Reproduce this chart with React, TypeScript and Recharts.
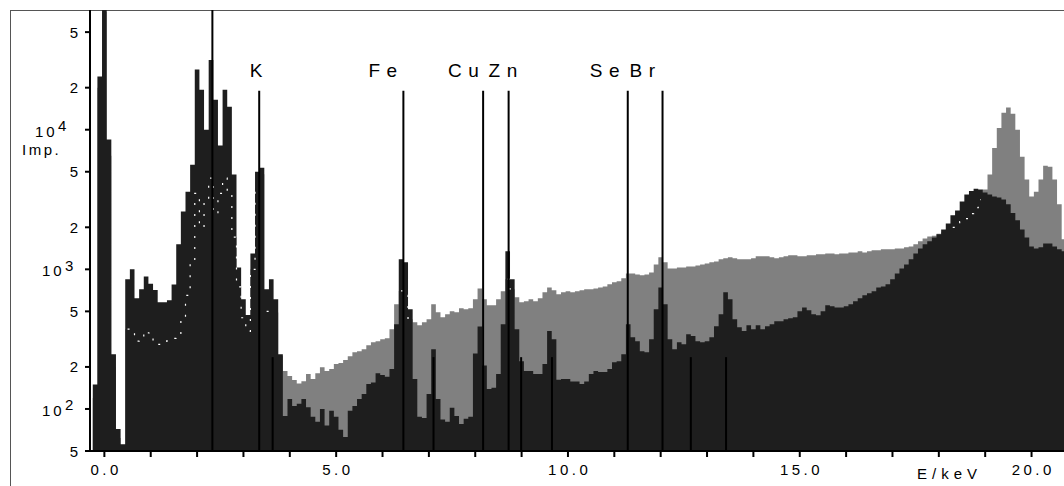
import React from 'react';
import {
  ComposedChart, Area, Line, XAxis, YAxis, ReferenceLine, ReferenceDot,
} from 'recharts';

// Channel calibration: first channel centre and channel width in keV
const CHANNEL_START = -0.3;
const CHANNEL_WIDTH = 0.1;

// Measured spectrum (dark), counts per channel from -0.3 to 20.7 keV
const sampleCounts = [
  40, 150, 24000, 80000, 8500, 247, 72, 56, 850, 1000,
  620, 720, 890, 790, 710, 580, 580, 600, 780, 1510,
  2600, 3600, 5620, 27000, 19300, 10000, 31600, 16400, 7700, 19300,
  14600, 4770, 1030, 610, 470, 1300, 5000, 5350, 720, 850,
  610, 247, 89, 118, 105, 109, 118, 103, 88, 81,
  100, 76, 97, 88, 71, 63, 97, 105, 118, 128,
  151, 155, 180, 175, 170, 193, 405, 1180, 1125, 518,
  164, 88, 86, 128, 268, 118, 84, 81, 102, 89,
  78, 85, 88, 250, 390, 205, 139, 142, 178, 405,
  1350, 850, 373, 220, 187, 187, 178, 178, 210, 361,
  316, 162, 164, 164, 157, 157, 151, 157, 178, 187,
  184, 184, 193, 216, 220, 247, 405, 326, 306, 259,
  255, 316, 518, 742, 563, 316, 268, 301, 291, 343,
  333, 306, 301, 306, 326, 391, 476, 685, 610, 439,
  385, 361, 398, 373, 398, 373, 391, 405, 425, 425,
  439, 447, 454, 502, 534, 510, 476, 469, 502, 552,
  544, 534, 534, 544, 563, 590, 620, 651, 674, 697,
  742, 755, 781, 848, 935, 1014, 1084, 1179, 1300, 1410,
  1510, 1590, 1690, 1780, 1930, 2130, 2440, 2640, 3060, 3440,
  3640, 3770, 3730, 3550, 3440, 3330, 3270, 3160, 2920, 2530,
  2250, 1930, 1690, 1460, 1410, 1440, 1530, 1530, 1460, 1390,
  1350,
];

// Comparison spectrum (grey), same channels
const referenceCounts = [
  40, 120, 20000, 70000, 6500, 200, 62, 52, 373, 360,
  306, 320, 361, 350, 300, 290, 305, 316, 320, 333,
  439, 650, 1100, 3500, 2000, 3000, 4500, 2500, 3500, 4500,
  3500, 1700, 750, 450, 360, 1000, 3800, 4800, 500, 500,
  490, 240, 187, 172, 161, 152, 158, 178, 164, 180,
  199, 187, 193, 210, 213, 224, 239, 255, 259, 268,
  286, 301, 306, 316, 321, 373, 563, 700, 650, 439,
  418, 398, 418, 439, 563, 493, 454, 476, 502, 493,
  527, 518, 527, 610, 730, 610, 552, 552, 610, 697,
  850, 720, 632, 582, 590, 610, 590, 620, 685, 742,
  707, 664, 685, 697, 685, 697, 707, 720, 720, 730,
  742, 755, 781, 808, 821, 863, 935, 935, 920, 906,
  920, 950, 1084, 1220, 1125, 1014, 1014, 1030, 1030, 1047,
  1047, 1065, 1084, 1102, 1125, 1140, 1179, 1200, 1220, 1200,
  1179, 1180, 1180, 1200, 1240, 1240, 1240, 1220, 1200, 1220,
  1240, 1260, 1260, 1240, 1240, 1260, 1260, 1280, 1280, 1300,
  1300, 1280, 1300, 1300, 1320, 1320, 1350, 1320, 1350, 1370,
  1370, 1390, 1390, 1390, 1410, 1410, 1440, 1460, 1510, 1590,
  1660, 1720, 1740, 1800, 1840, 1930, 2000, 2090, 2200, 2310,
  2510, 2760, 3160, 3730, 4770, 7400, 10300, 13200, 14400, 13000,
  10000, 6400, 4400, 3330, 3600, 4400, 5530, 5440, 4400, 2920,
  1640,
];

// K-alpha markers with element names (keV)
const alphaLines = [
  { element: 'K', energy: 3.34 },
  { element: 'Fe', energy: 6.45 },
  { element: 'Cu', energy: 8.17 },
  { element: 'Zn', energy: 8.72 },
  { element: 'Se', energy: 11.29 },
  { element: 'Br', energy: 12.04 },
];
// K-beta markers (keV)
const betaLines = [3.63, 7.1, 8.99, 9.655, 12.65, 13.41];
// full-height marker
const sulfurLine = 2.33;

const ALPHA_TOP = 19000;
const BETA_TOP = 235;
const COUNT_MIN = 50;
const COUNT_MAX = 72000;

const energyTicks = [0, 1, 2, 3, 4, 5, 6, 7, 8, 9, 10, 11, 12, 13, 14, 15, 16, 17, 18, 19, 20];
const countTicks = [50, 100, 200, 500, 1000, 2000, 5000, 10000, 20000, 50000];

// horizontal offset of each element name from its marker line
const LABEL_DX: Record<string, number> = { K: -9.5, Fe: -35, Cu: -35, Zn: -20, Se: -38, Br: -33 };

const data = sampleCounts.map((s, i) => {
  const r = referenceCounts[i];
  const e = Math.round((CHANNEL_START + i * CHANNEL_WIDTH) * 10) / 10;
  return {
    e,
    sample: s,
    reference: r,
    // outline of the grey spectrum where it sits under the dark one
    under: e >= 0.5 && s > r * 1.15 ? r : null,
  };
});

const FONT = '"Liberation Sans", Arial, sans-serif';

const EnergyTick = (props: any) => {
  const { x, payload } = props;
  const v = payload.value;
  if (v % 5 !== 0) return <g />;
  return (
    <text x={x + 1.75} y={475} textAnchor="middle" fontSize={15} letterSpacing={3.5} fill="#000" fontFamily={FONT}>
      {v.toFixed(1)}
    </text>
  );
};

const CountTick = (props: any) => {
  const { y, payload } = props;
  const v = payload.value;
  const exp = Math.floor(Math.log10(v) + 1e-9);
  const mant = Math.round(v / 10 ** exp);
  if (mant === 1) {
    const shift = exp === 4 ? -7 : 0;
    return (
      <g fontFamily={FONT} fill="#000" fontSize={15}>
        <text x={42 + shift} y={y + 7} letterSpacing={3}>10</text>
        <text x={65 + shift} y={y + 1.5}>{exp}</text>
      </g>
    );
  }
  return (
    <text x={78} y={y + 5.5} textAnchor="end" fontSize={15} fill="#000" fontFamily={FONT}>
      {mant}
    </text>
  );
};

export default function App() {
  return (
    <div style={{ position: 'absolute', left: 0, top: 0, width: 1064, height: 486, background: '#fff', overflow: 'hidden', fontFamily: FONT }}>
      <div style={{ position: 'absolute', left: 10, top: 10, width: 1100, height: 500, borderLeft: '1px solid #555', borderTop: '1px solid #555' }} />
      <div style={{ position: 'absolute', left: 0, top: 0 }}>
        <ComposedChart width={1064} height={486} data={data} margin={{ top: 10, right: 0, bottom: 0, left: 0 }}>
          <XAxis
            dataKey="e"
            type="number"
            domain={[-0.31, 20.7]}
            allowDataOverflow
            ticks={energyTicks}
            interval={0}
            height={35}
            tickSize={6}
            axisLine={{ stroke: '#000', strokeWidth: 2 }}
            tickLine={{ stroke: '#000', strokeWidth: 2 }}
            tick={<EnergyTick />}
          />
          <YAxis
            type="number"
            scale="log"
            domain={[COUNT_MIN, COUNT_MAX]}
            allowDataOverflow
            ticks={countTicks}
            interval={0}
            width={90}
            tickSize={5}
            axisLine={{ stroke: '#000', strokeWidth: 2 }}
            tickLine={{ stroke: '#000', strokeWidth: 2 }}
            tick={<CountTick />}
          />
          <Area
            type="step"
            dataKey="reference"
            stroke="none"
            fill="#808080"
            fillOpacity={1}
            baseValue="dataMin"
            isAnimationActive={false}
          />
          <Area
            type="step"
            dataKey="sample"
            stroke="none"
            fill="#1e1e1e"
            fillOpacity={1}
            baseValue="dataMin"
            isAnimationActive={false}
          />
          <Line
            type="step"
            dataKey="under"
            stroke="#ffffff"
            strokeWidth={1.2}
            strokeDasharray="2 9"
            dot={false}
            activeDot={false}
            connectNulls={false}
            isAnimationActive={false}
          />
          <ReferenceLine x={sulfurLine} stroke="#000" strokeWidth={2} />
          {alphaLines.map((l) => (
            <ReferenceLine
              key={`a-${l.element}`}
              segment={[{ x: l.energy, y: COUNT_MIN }, { x: l.energy, y: ALPHA_TOP }]}
              stroke="#000"
              strokeWidth={2}
            />
          ))}
          {betaLines.map((e) => (
            <ReferenceLine
              key={`b-${e}`}
              segment={[{ x: e, y: COUNT_MIN }, { x: e, y: BETA_TOP }]}
              stroke="#000"
              strokeWidth={2}
            />
          ))}
          {alphaLines.map((l) => (
            <ReferenceDot
              key={`t-${l.element}`}
              x={l.energy}
              y={ALPHA_TOP}
              r={0}
              shape={(p: any) => (
                <text x={p.cx + LABEL_DX[l.element]} y={p.cy - 14} fontSize={19} letterSpacing={6.5} fill="#000" fontFamily={FONT}>
                  {l.element}
                </text>
              )}
            />
          ))}
        </ComposedChart>
      </div>
      <div style={{ position: 'absolute', left: 22, top: 142, fontSize: 15, letterSpacing: 2.5, lineHeight: '16px', color: '#000' }}>Imp.</div>
      <div style={{ position: 'absolute', left: 917, top: 466, fontSize: 15, letterSpacing: 5, lineHeight: '16px', color: '#000' }}>E/keV</div>
    </div>
  );
}
